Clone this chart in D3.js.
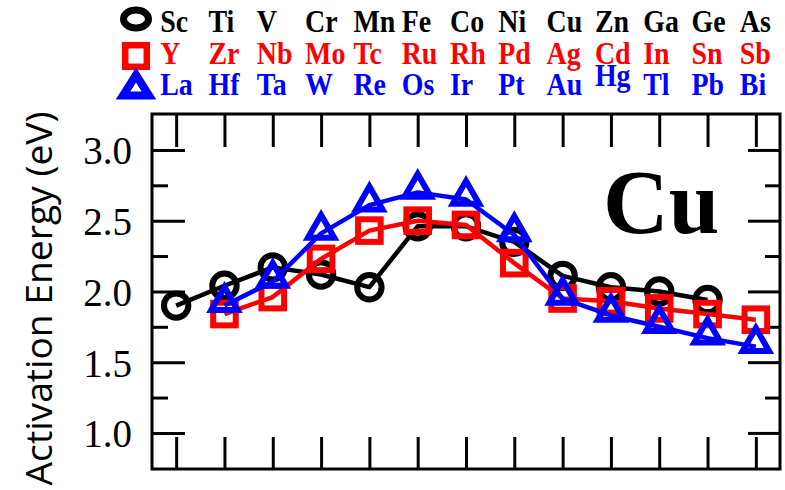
<!DOCTYPE html>
<html>
<head>
<meta charset="utf-8">
<script src="https://cdn.jsdelivr.net/npm/d3@7"></script>
<style>
  html, body { margin: 0; padding: 0; background: #fff; }
  svg { display: block; }
</style>
</head>
<body>
<script>
// ---- data ----
const row3d = ["Sc","Ti","V","Cr","Mn","Fe","Co","Ni","Cu","Zn","Ga","Ge","As"];
const row4d = ["Y","Zr","Nb","Mo","Tc","Ru","Rh","Pd","Ag","Cd","In","Sn","Sb"];
const row5d = ["La","Hf","Ta","W","Re","Os","Ir","Pt","Au","Hg","Tl","Pb","Bi"];
const black3d = [1.90, 2.04, 2.17, 2.12, 2.03, 2.46, 2.46, 2.35, 2.11, 2.03, 2.00, 1.94, null];
const red4d   = [null, 1.84, 1.96, 2.23, 2.43, 2.50, 2.47, 2.20, 1.95, 1.93, 1.88, 1.84, 1.80];
const blue5d  = [null, 1.90, 2.07, 2.41, 2.61, 2.70, 2.65, 2.40, 1.95, 1.83, 1.75, 1.67, 1.61];
const yMajor = [1.0, 1.5, 2.0, 2.5, 3.0];
const yMinor = [1.25, 1.75, 2.25, 2.75];
const yTitle = "Activation Energy (eV)";
const panelLabel = "Cu";

// ---- layout ----
const W = 785, H = 490;
const L = 152, R = 780, T = 114, B = 469;
const svg = d3.select("body").append("svg").attr("width", W).attr("height", H);

const x = d3.scaleLinear().domain([-0.5, 12.5]).range([L, R]);
const y = d3.scaleLinear().domain([0.745, 3.254]).range([B, T]);
const idx = d3.range(row3d.length);

// ---- axes (inward ticks) ----
function styleAxis(g) {
  g.select(".domain").remove();
  g.selectAll(".tick line").attr("stroke", "#000").attr("stroke-width", 3);
}
svg.append("g").attr("transform", `translate(${L},0)`)
  .call(d3.axisLeft(y).tickValues(yMajor).tickSize(-33).tickPadding(20).tickFormat(d3.format(".1f")))
  .call(styleAxis)
  .call(g => g.selectAll(".tick text")
    .attr("font-family", "'Liberation Serif', 'Times New Roman', serif")
    .attr("font-size", 39).attr("fill", "#000").attr("dy", "0.36em"));
svg.append("g").attr("transform", `translate(${L},0)`)
  .call(d3.axisLeft(y).tickValues(yMinor).tickSize(-16).tickFormat(""))
  .call(styleAxis);
svg.append("g").attr("transform", `translate(${R},0)`)
  .call(d3.axisRight(y).tickValues(yMajor).tickSize(-32).tickFormat(""))
  .call(styleAxis);
svg.append("g").attr("transform", `translate(${R},0)`)
  .call(d3.axisRight(y).tickValues(yMinor).tickSize(-15).tickFormat(""))
  .call(styleAxis);
svg.append("g").attr("transform", `translate(0,${T})`)
  .call(d3.axisTop(x).tickValues(idx).tickSize(-33).tickFormat(""))
  .call(styleAxis);
svg.append("g").attr("transform", `translate(0,${B})`)
  .call(d3.axisBottom(x).tickValues(idx).tickSize(-32).tickFormat(""))
  .call(styleAxis);

// frame
svg.append("rect").attr("x", L).attr("y", T).attr("width", R - L).attr("height", B - T)
  .attr("fill", "none").attr("stroke", "#000").attr("stroke-width", 3);

// y title (sized to span the same length as the reference label)
const yt = svg.append("text")
  .attr("transform", `translate(52,298.5) rotate(-90)`)
  .attr("text-anchor", "middle")
  .attr("font-family", "'Open Sans', 'DejaVu Sans', sans-serif")
  .attr("font-size", 33).attr("fill", "#000")
  .text(yTitle);
const len = yt.node().getComputedTextLength();
if (len > 0) yt.attr("font-size", 33 * 374 / len);

// panel label
svg.append("text").attr("x", 603).attr("y", 233)
  .attr("font-family", "'Liberation Serif', 'Times New Roman', serif")
  .attr("font-weight", "bold").attr("font-size", 91).attr("fill", "#000")
  .text(panelLabel);

// ---- series ----
const triPath = "M0,-18.5L13.15,4.3L-13.15,4.3Z";
const series = [
  { vals: black3d, color: "#000000", shape: "circle" },
  { vals: red4d,   color: "#ff0000", shape: "square" },
  { vals: blue5d,  color: "#0000ff", shape: "triangle" }
];
const line = d3.line().defined(d => d.v != null).x(d => x(d.i)).y(d => y(d.v));

series.forEach(s => {
  const pts = s.vals.map((v, i) => ({ i, v }));
  const g = svg.append("g");
  g.append("path").datum(pts).attr("d", line)
    .attr("fill", "none").attr("stroke", s.color).attr("stroke-width", 4.5)
    .attr("stroke-linejoin", "round");
  const p = pts.filter(d => d.v != null);
  if (s.shape === "circle") {
    g.selectAll("circle").data(p).join("circle")
      .attr("cx", d => x(d.i)).attr("cy", d => y(d.v)).attr("r", 12.2)
      .attr("fill", "none").attr("stroke", s.color).attr("stroke-width", 6);
  } else if (s.shape === "square") {
    g.selectAll("rect").data(p).join("rect")
      .attr("x", d => x(d.i) - 11.3).attr("y", d => y(d.v) - 11.3)
      .attr("width", 22.6).attr("height", 22.6)
      .attr("fill", "none").attr("stroke", s.color).attr("stroke-width", 6);
  } else {
    g.selectAll("path.m").data(p).join("path").attr("class", "m")
      .attr("transform", d => `translate(${x(d.i)},${y(d.v)})`)
      .attr("d", triPath)
      .attr("fill", "none").attr("stroke", s.color).attr("stroke-width", 6);
  }
});

// ---- legend (top) ----
const legRows = [
  { names: row3d, color: "#000000", shape: "circle" },
  { names: row4d, color: "#ff0000", shape: "square" },
  { names: row5d, color: "#0000ff", shape: "triangle" }
];
const legBase = [31.5, 63.5, 95];
const legSymY = [19, 56, 87];
const leg = svg.append("g");
legRows.forEach((r, k) => {
  if (r.shape === "circle") {
    leg.append("ellipse").attr("cx", 136).attr("cy", legSymY[k]).attr("rx", 12.5).attr("ry", 9)
      .attr("fill", "none").attr("stroke", r.color).attr("stroke-width", 7);
  } else if (r.shape === "square") {
    leg.append("rect").attr("x", 136 - 10.8).attr("y", legSymY[k] - 10.8)
      .attr("width", 21.6).attr("height", 21.6)
      .attr("fill", "none").attr("stroke", r.color).attr("stroke-width", 6.5);
  } else {
    leg.append("path").attr("transform", `translate(136,${legSymY[k]})`)
      .attr("d", "M0,-12L13,8.5L-13,8.5Z")
      .attr("fill", "none").attr("stroke", r.color).attr("stroke-width", 8)
      .attr("stroke-linejoin", "miter");
  }
  leg.selectAll(null).data(r.names).join("text")
    .attr("transform", (d, i) =>
      `translate(${x(i) - 16},${d === "Hg" ? legBase[k] - 9 : legBase[k]}) scale(0.9,1)`)
    .attr("font-family", "'Liberation Serif', 'Times New Roman', serif")
    .attr("font-weight", "bold").attr("font-size", 31)
    .attr("fill", r.color)
    .text(d => d);
});
</script>
</body>
</html>
